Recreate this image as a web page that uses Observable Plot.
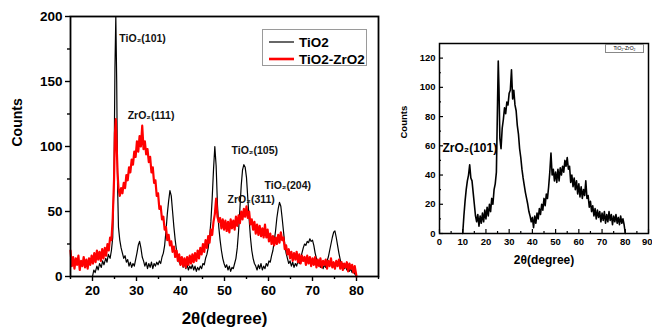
<!DOCTYPE html>
<html>
<head>
<meta charset="utf-8">
<script src="https://cdn.jsdelivr.net/npm/d3@7"></script>
<script src="https://cdn.jsdelivr.net/npm/@observablehq/plot@0.6"></script>
<style>
  html, body { margin: 0; padding: 0; background: #fff; }
  #wrap { position: relative; width: 652px; height: 328px; overflow: hidden; background: #fff; font-family: "Liberation Sans", Arial, sans-serif; }
  #wrap svg { position: absolute; top: 0; overflow: visible; }
  .legend { position: absolute; background: #fff; border: 1px solid #9a9a9a; box-sizing: border-box; }
</style>
</head>
<body>
<div id="wrap">
  <div class="legend" style="left:262px;top:29px;width:105px;height:37px;">
    <svg width="103" height="35" style="position:absolute;left:0;top:0;">
      <line x1="6" y1="12" x2="31" y2="12" stroke="#000" stroke-width="1.2"/>
      <text x="36" y="17" font-size="13.5" font-weight="bold" font-family="Liberation Sans, Arial, sans-serif">TiO2</text>
      <line x1="6" y1="29" x2="31" y2="29" stroke="#f00" stroke-width="2.6"/>
      <text x="36" y="34" font-size="13.5" font-weight="bold" font-family="Liberation Sans, Arial, sans-serif">TiO2-ZrO2</text>
    </svg>
  </div>
  <div class="legend" style="left:605px;top:44px;width:39px;height:9px;border-color:#888;font-size:5px;line-height:7px;text-align:center;">TiO₂-ZrO₂</div>
</div>
<script>
// ---------- Left panel: TiO2 (black) ----------
const tio2Angle = [20.0,20.3,20.6,21.0,21.3,21.6,22.0,22.3,22.6,23.0,23.3,23.6,24.0,24.3,24.6,24.9,25.1,25.3,25.5,25.7,25.9,26.2,26.5,26.8,27.1,27.4,27.7,28.0,28.3,28.6,28.9,29.2,29.5,29.8,30.1,30.4,30.7,31.0,31.3,31.6,31.9,32.2,32.5,32.8,33.1,33.4,33.7,34.0,34.3,34.6,34.9,35.2,35.5,35.8,36.1,36.4,36.7,37.0,37.3,37.6,37.9,38.2,38.5,38.8,39.1,39.4,39.7,40.0,40.3,40.6,40.9,41.2,41.5,41.8,42.1,42.4,42.7,43.0,43.3,43.6,43.9,44.2,44.5,44.8,45.1,45.4,45.7,46.0,46.3,46.6,46.9,47.2,47.5,47.8,48.1,48.4,48.7,49.0,49.3,49.6,49.9,50.2,50.5,50.8,51.1,51.4,51.7,52.0,52.3,52.6,52.9,53.2,53.5,53.8,54.1,54.4,54.7,55.0,55.3,55.6,55.9,56.2,56.5,56.8,57.1,57.4,57.7,58.0,58.3,58.6,58.9,59.2,59.5,59.8,60.1,60.4,60.7,61.0,61.3,61.6,61.9,62.2,62.5,62.8,63.1,63.4,63.7,64.0,64.3,64.6,64.9,65.2,65.5,65.8,66.1,66.4,66.7,67.0,67.3,67.6,67.9,68.2,68.5,68.8,69.1,69.4,69.7,70.0,70.3,70.6,70.9,71.2,71.5,71.8,72.1,72.4,72.7,73.0,73.3,73.6,73.9,74.2,74.5,74.8,75.1,75.4,75.7,76.0,76.3,76.6,76.9,77.2,77.5,77.8,78.1,78.4,78.7,79.0,79.3,79.6,80.0];
const tio2Counts = [0,5,3,8,5,10,7,12,9,14,11,17,14,20,30,80,160,200,150,70,38,28,22,18,14,16,11,13,8,11,7,10,8,13,18,24,27,22,15,12,8,11,6,10,7,11,6,10,8,11,9,12,10,15,18,24,35,48,58,66,62,50,38,28,20,15,11,9,12,7,10,6,9,5,8,6,9,5,8,4,7,5,8,6,10,9,14,17,22,30,42,60,82,100,85,55,38,28,20,14,10,7,9,5,8,4,7,6,10,14,22,35,52,70,82,86,84,76,60,44,30,20,14,10,8,5,9,6,10,5,8,6,10,8,12,11,16,20,27,35,45,52,57,54,45,35,25,18,14,10,12,8,11,7,10,8,12,10,14,18,22,25,24,27,26,29,27,28,24,18,14,10,12,7,10,6,9,7,12,15,20,25,30,34,35,30,24,18,13,9,10,6,8,5,7,4,6,3,5,2,0];

// ---------- Left panel: TiO2-ZrO2 (red) ----------
const tzAngle = [15.0,15.3,15.6,15.9,16.2,16.5,16.8,17.1,17.4,17.7,18.0,18.3,18.6,18.9,19.2,19.5,19.8,20.1,20.4,20.7,21.0,21.3,21.6,21.9,22.2,22.5,22.8,23.1,23.4,23.7,24.0,24.3,24.6,24.9,25.1,25.3,25.5,25.7,25.9,26.2,26.5,26.8,27.1,27.4,27.7,28.0,28.3,28.6,28.9,29.2,29.5,29.8,30.1,30.4,30.7,31.0,31.3,31.6,31.9,32.2,32.5,32.8,33.1,33.4,33.7,34.0,34.3,34.6,34.9,35.2,35.5,35.8,36.1,36.4,36.7,37.0,37.3,37.6,37.9,38.2,38.5,38.8,39.1,39.4,39.7,40.0,40.3,40.6,40.9,41.2,41.5,41.8,42.1,42.4,42.7,43.0,43.3,43.6,43.9,44.2,44.5,44.8,45.1,45.4,45.7,46.0,46.3,46.6,46.9,47.2,47.5,47.8,48.1,48.4,48.7,49.0,49.3,49.6,49.9,50.2,50.5,50.8,51.1,51.4,51.7,52.0,52.3,52.6,52.9,53.2,53.5,53.8,54.1,54.4,54.7,55.0,55.3,55.6,55.9,56.2,56.5,56.8,57.1,57.4,57.7,58.0,58.3,58.6,58.9,59.2,59.5,59.8,60.1,60.4,60.7,61.0,61.3,61.6,61.9,62.2,62.5,62.8,63.1,63.4,63.7,64.0,64.3,64.6,64.9,65.2,65.5,65.8,66.1,66.4,66.7,67.0,67.3,67.6,67.9,68.2,68.5,68.8,69.1,69.4,69.7,70.0,70.3,70.6,70.9,71.2,71.5,71.8,72.1,72.4,72.7,73.0,73.3,73.6,73.9,74.2,74.5,74.8,75.1,75.4,75.7,76.0,76.3,76.6,76.9,77.2,77.5,77.8,78.1,78.4,78.7,79.0,79.3,79.6,80.0];
const tzCounts = [20,8,15,6,14,9,16,5,12,8,15,7,13,6,14,9,16,10,18,11,20,13,19,12,21,14,22,16,25,20,30,28,45,75,110,121,100,80,68,62,68,64,72,68,78,74,84,80,90,86,96,92,104,96,108,100,116,98,104,94,98,88,92,80,84,72,74,62,64,52,54,44,46,36,38,28,32,24,27,19,23,15,20,12,17,9,15,8,14,7,15,9,16,10,17,11,18,12,20,14,22,17,25,19,28,22,31,26,36,32,42,48,60,46,42,45,37,44,36,43,35,42,34,44,37,43,36,46,39,47,41,50,44,52,46,54,45,50,40,44,36,42,33,40,32,39,31,37,30,40,30,36,27,33,25,31,24,30,25,32,26,34,28,30,21,24,17,21,14,19,12,18,13,19,11,17,10,16,12,15,9,16,10,15,8,14,9,15,7,13,8,14,7,12,9,13,6,12,8,14,7,11,6,12,8,13,6,11,5,10,7,11,4,10,6,9,3,8,0];

// ---------- Right panel: TiO2-ZrO2 (black) ----------
const rAngle = [10.0,10.5,11.0,11.5,12.0,12.5,13.0,13.5,14.0,14.5,15.0,15.5,16.0,16.5,17.0,17.5,18.0,18.5,19.0,19.5,20.0,20.5,21.0,21.5,22.0,22.5,23.0,23.5,24.0,24.5,25.0,25.3,25.6,26.0,26.5,27.0,27.5,28.0,28.5,29.0,29.5,30.0,30.5,31.0,31.5,32.0,32.5,33.0,33.5,34.0,34.5,35.0,35.5,36.0,36.5,37.0,37.5,38.0,38.5,39.0,39.5,40.0,40.5,41.0,41.5,42.0,42.5,43.0,43.5,44.0,44.5,45.0,45.5,46.0,46.5,47.0,47.5,48.0,48.5,49.0,49.5,50.0,50.5,51.0,51.5,52.0,52.5,53.0,53.5,54.0,54.5,55.0,55.5,56.0,56.5,57.0,57.5,58.0,58.5,59.0,59.5,60.0,60.5,61.0,61.5,62.0,62.5,63.0,63.5,64.0,64.5,65.0,65.5,66.0,66.5,67.0,67.5,68.0,68.5,69.0,69.5,70.0,70.5,71.0,71.5,72.0,72.5,73.0,73.5,74.0,74.5,75.0,75.5,76.0,76.5,77.0,77.5,78.0,78.5,79.0,79.5,80.0];
const rCounts = [0,12,22,30,36,40,47,38,36,28,20,12,8,13,5,12,7,14,8,16,10,18,12,20,15,24,20,30,34,42,90,118,100,65,58,72,78,86,82,90,88,96,98,112,92,98,88,84,74,68,58,52,44,38,33,28,24,20,15,12,8,11,4,12,7,14,10,17,13,20,16,24,19,27,24,32,42,55,40,44,36,42,35,44,36,45,40,46,42,50,46,52,44,46,35,40,32,38,30,36,27,34,25,32,24,30,26,36,24,26,18,22,15,19,12,17,10,16,11,15,8,14,9,15,7,13,8,15,9,13,6,12,8,13,7,11,6,12,7,10,6,0];

// ---------- Tick values ----------
const leftXTicks = [20, 30, 40, 50, 60, 70, 80];
const leftXMinor = [15, 25, 35, 45, 55, 65, 75, 85];
const leftYTicks = [0, 50, 100, 150, 200];
const leftYMinor = [25, 75, 125, 175];
const rightXTicks = [0, 10, 20, 30, 40, 50, 60, 70, 80];
const rightXLastTick = [90];
const rightXMinor = [5, 15, 25, 35, 45, 55, 65, 75, 85];
const rightYTicks = [0, 20, 40, 60, 80, 100, 120];
const rightYMinor = [10, 30, 50, 70, 90, 110, 130];

// ---------- Annotations ----------
const leftNoteText = ["TiO₂(101)", "ZrO₂(111)", "TiO₂(105)", "TiO₂(204)", "ZrO₂(311)"];
const leftNoteAngle = [26.1, 28.0, 51.6, 59.1, 50.7];
const leftNoteCounts = [183, 124, 97, 70, 59];
const rightNoteText = ["ZrO₂(101)"];
const rightNoteAngle = [1.3];
const rightNoteCounts = [58.6];

const tio2 = tio2Angle.map((a, i) => ({angle: a, counts: tio2Counts[i]}));
const tz = tzAngle.map((a, i) => ({angle: a, counts: tzCounts[i]}));
const rz = rAngle.map((a, i) => ({angle: a, counts: rCounts[i]}));
const leftNotes = leftNoteText.map((t, i) => ({t, angle: leftNoteAngle[i], counts: leftNoteCounts[i]}));
const rightNotes = rightNoteText.map((t, i) => ({t, angle: rightNoteAngle[i], counts: rightNoteCounts[i]}));

const font = "'Liberation Sans', Arial, sans-serif";
const blank = () => "";

const left = Plot.plot({
  width: 385, height: 328,
  marginLeft: 70, marginRight: 7, marginTop: 16, marginBottom: 52,
  x: {domain: [15, 85]},
  y: {domain: [0, 200]},
  style: {fontFamily: font, fontWeight: "bold", background: "transparent", color: "#000", overflow: "visible"},
  marks: [
    Plot.axisX({ticks: leftXTicks, tickSize: 5, tickPadding: 4, fontSize: 13.5, fontWeight: "bold", label: null, strokeWidth: 1.4}),
    Plot.axisX({ticks: leftXMinor, tickSize: 3, tickFormat: blank, label: null, strokeWidth: 1.4}),
    Plot.axisY({ticks: leftYTicks, tickSize: 5, tickPadding: 3, fontSize: 13.5, fontWeight: "bold", label: null, strokeWidth: 1.4}),
    Plot.axisY({ticks: leftYMinor, tickSize: 3, tickFormat: blank, label: null, strokeWidth: 1.4}),
    Plot.line(tio2, {x: "angle", y: "counts", stroke: "#000", strokeWidth: 1.2}),
    Plot.line(tz, {x: "angle", y: "counts", stroke: "#f00", strokeWidth: 2.2}),
    Plot.frame({stroke: "#000", strokeWidth: 1.8}),
    Plot.text(leftNotes, {x: "angle", y: "counts", text: "t", textAnchor: "start", fontSize: 10.5, fontWeight: "bold", fill: "#111"}),
    Plot.text(["Counts"], {frameAnchor: "left", dx: -53, rotate: -90, fontSize: 14, fontWeight: "bold"}),
    Plot.text(["2θ(degree)"], {frameAnchor: "bottom", dy: 47, fontSize: 17, fontWeight: "bold"})
  ]
});
left.style.left = "0px";

const right = Plot.plot({
  width: 272, height: 328,
  marginLeft: 59, marginRight: 4, marginTop: 43, marginBottom: 95,
  x: {domain: [0, 90]},
  y: {domain: [0, 130]},
  style: {fontFamily: font, fontWeight: "bold", background: "transparent", color: "#000", overflow: "visible"},
  marks: [
    Plot.axisX({ticks: rightXTicks, tickSize: 0, tickPadding: 5, fontSize: 9.5, fontWeight: "bold", label: null}),
    Plot.text(rightXLastTick, {x: d => d, frameAnchor: "bottom", lineAnchor: "top", textAnchor: "end", dx: 4, dy: 5, fontSize: 9.5, fontWeight: "bold"}),
    Plot.axisY({ticks: rightYTicks, tickSize: 0, tickPadding: 4, fontSize: 9.5, fontWeight: "bold", label: null}),
    Plot.ruleX(rightXTicks.concat(rightXLastTick), {x: d => d, insetTop: 186, stroke: "#000", strokeWidth: 1.2}),
    Plot.ruleX(rightXMinor, {x: d => d, insetTop: 188, stroke: "#000", strokeWidth: 1.2}),
    Plot.ruleY(rightYTicks, {y: d => d, insetRight: 205, stroke: "#000", strokeWidth: 1.2}),
    Plot.ruleY(rightYMinor, {y: d => d, insetRight: 207, stroke: "#000", strokeWidth: 1.2}),
    Plot.line(rz, {x: "angle", y: "counts", stroke: "#000", strokeWidth: 1.6}),
    Plot.frame({stroke: "#000", strokeWidth: 1.5}),
    Plot.text(rightNotes, {x: "angle", y: "counts", text: "t", textAnchor: "start", fontSize: 12, fontWeight: "bold"}),
    Plot.text(["Counts"], {frameAnchor: "left", dx: -36, rotate: -90, fontSize: 9.5, fontWeight: "bold"}),
    Plot.text(["2θ(degree)"], {frameAnchor: "bottom", dy: 30, fontSize: 12, fontWeight: "bold"})
  ]
});
right.style.left = "380px";

const wrap = document.getElementById("wrap");
wrap.insertBefore(right, wrap.firstChild);
wrap.insertBefore(left, wrap.firstChild);
</script>
</body>
</html>
